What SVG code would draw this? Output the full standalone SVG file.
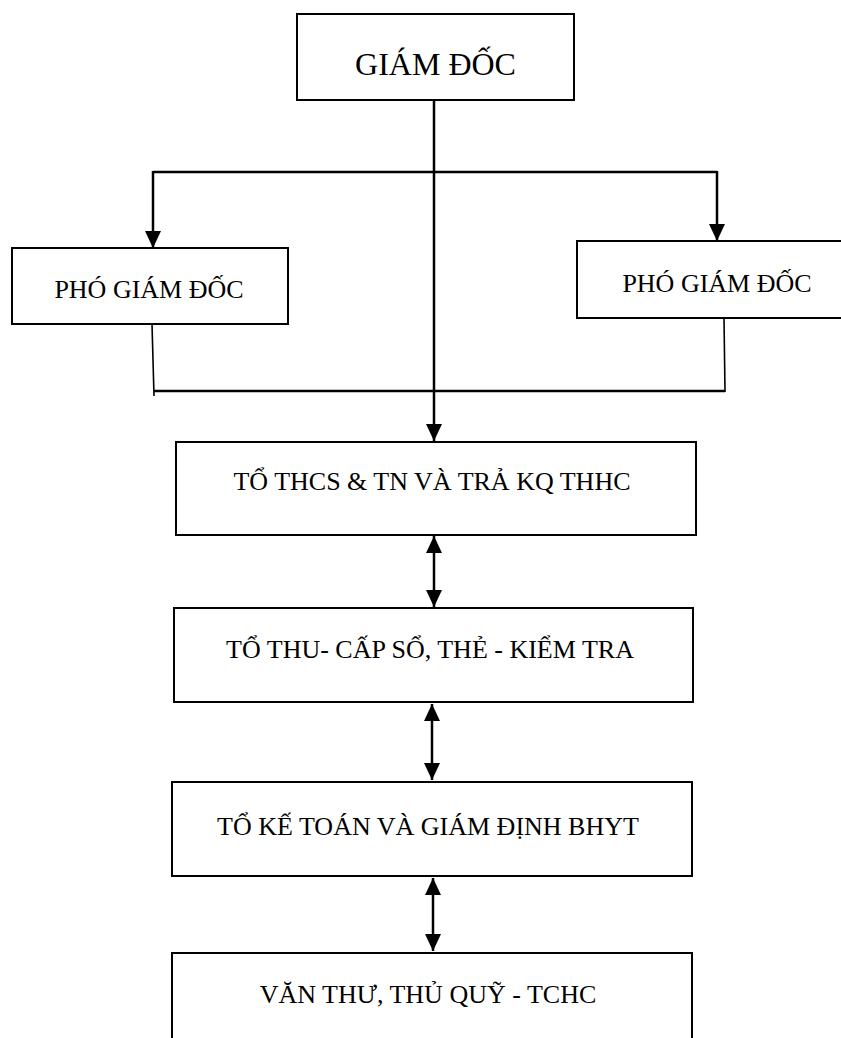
<svg xmlns="http://www.w3.org/2000/svg" width="841" height="1038" viewBox="0 0 841 1038">
  <style>
    .box { fill: #ffffff; stroke: #000000; stroke-width: 2; }
    .lbl { font-family: "Liberation Serif", "Times New Roman", serif; font-size: 26px; fill: #000000; text-anchor: middle; }
    .big { font-size: 32px; }
    .conn { fill: none; stroke: #000000; stroke-width: 2.5; }
    .thin { stroke-width: 1.6; }
  </style>
  <defs>
    <marker id="arr" markerUnits="userSpaceOnUse" markerWidth="17" markerHeight="16" refX="17" refY="8" orient="auto-start-reverse" viewBox="0 0 17 16">
      <path d="M0,0 L17,8 L0,16 Z" fill="#000000"/>
    </marker>
  </defs>
  <rect width="841" height="1038" fill="#ffffff"/>

  <g id="giam-doc">
    <rect class="box" x="297" y="14" width="277" height="86"/>
    <text class="lbl big" x="435.5" y="75">GIÁM ĐỐC</text>
  </g>

  <g id="pho-giam-doc-1">
    <rect class="box" x="12" y="248" width="276" height="76"/>
    <text class="lbl" x="149" y="298">PHÓ GIÁM ĐỐC</text>
  </g>

  <g id="pho-giam-doc-2">
    <rect class="box" x="577" y="241" width="280" height="77"/>
    <text class="lbl" x="717" y="292">PHÓ GIÁM ĐỐC</text>
  </g>

  <g id="to-thcs">
    <rect class="box" x="176" y="442" width="520" height="93"/>
    <text class="lbl" x="432" y="490">TỔ THCS &amp; TN VÀ TRẢ KQ THHC</text>
  </g>

  <g id="to-thu">
    <rect class="box" x="174" y="608" width="519" height="94"/>
    <text class="lbl" x="430" y="658">TỔ THU- CẤP SỔ, THẺ - KIỂM TRA</text>
  </g>

  <g id="to-ke-toan">
    <rect class="box" x="172" y="782" width="520" height="94"/>
    <text class="lbl" x="428" y="835">TỔ KẾ TOÁN VÀ GIÁM ĐỊNH BHYT</text>
  </g>

  <g id="van-thu">
    <rect class="box" x="172" y="953" width="520" height="100"/>
    <text class="lbl" x="428" y="1003">VĂN THƯ, THỦ QUỸ - TCHC</text>
  </g>

  <g id="connectors">
    <line class="conn" x1="434" y1="100" x2="434" y2="441" marker-end="url(#arr)"/>
    <line class="conn" x1="153" y1="172" x2="717" y2="172"/>
    <line class="conn" x1="153" y1="171" x2="153" y2="248" marker-end="url(#arr)"/>
    <line class="conn" x1="717" y1="171" x2="717" y2="241" marker-end="url(#arr)"/>
    <line class="conn thin" x1="152" y1="324" x2="154" y2="396"/>
    <line class="conn" x1="154" y1="391" x2="725" y2="391"/>
    <line class="conn thin" x1="724" y1="318" x2="725" y2="392"/>
    <line class="conn" x1="434" y1="536" x2="434" y2="607" marker-start="url(#arr)" marker-end="url(#arr)"/>
    <line class="conn" x1="432" y1="704" x2="432" y2="780" marker-start="url(#arr)" marker-end="url(#arr)"/>
    <line class="conn" x1="433" y1="878" x2="433" y2="951" marker-start="url(#arr)" marker-end="url(#arr)"/>
  </g>
</svg>
